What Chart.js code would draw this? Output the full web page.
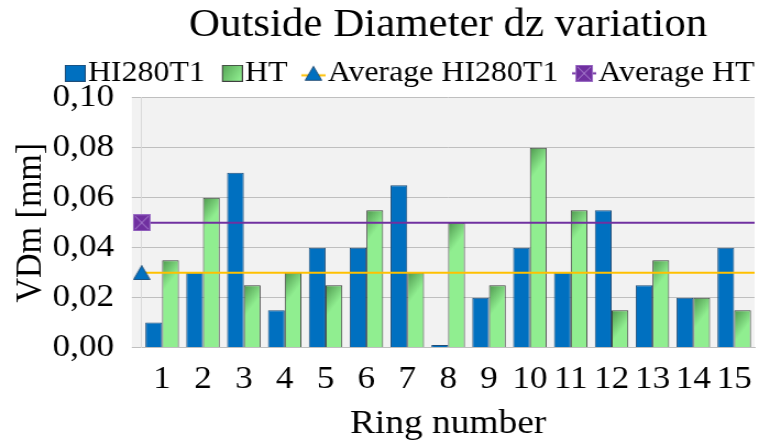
<!DOCTYPE html>
<html>
<head>
<meta charset="utf-8">
<script src="https://cdn.jsdelivr.net/npm/chart.js@4/dist/chart.umd.min.js"></script>
<style>
html,body{margin:0;padding:0;background:#fff;overflow:hidden;width:763px;height:444px;}
#wrap{width:696px;height:444px;transform:scaleX(1.1);transform-origin:0 0;}
</style>
</head>
<body>
<div id="wrap"><canvas id="c" width="696" height="444"></canvas></div>
<script>
const categories = ['1','2','3','4','5','6','7','8','9','10','11','12','13','14','15'];
const hi280t1 = [0.010,0.030,0.070,0.015,0.040,0.040,0.065,0.001,0.020,0.040,0.030,0.055,0.025,0.020,0.040];
const ht = [0.035,0.060,0.025,0.030,0.025,0.055,0.030,0.050,0.025,0.080,0.055,0.015,0.035,0.020,0.015];
const avgHI280T1 = 0.03;
const avgHT = 0.05;
const seriesNames = ['HI280T1','HT','Average HI280T1','Average HT'];
const yTicks = [0,0.02,0.04,0.06,0.08,0.10];

const FONT = '"Liberation Serif", "Times New Roman", serif';
const BLUE = '#0070c0';
const PURPLE = '#7030a0';
const YELLOW = '#ffc000';

function mk(w,h,draw){const c=document.createElement('canvas');c.width=w;c.height=h;draw(c.getContext('2d'));return c;}

const triMarker = mk(16,15,g=>{g.beginPath();g.moveTo(8,0.5);g.lineTo(15.5,14.5);g.lineTo(0.5,14.5);g.closePath();g.fillStyle=BLUE;g.fill();g.strokeStyle='#1f4e79';g.lineWidth=1;g.stroke();});
const sqMarker = mk(16,17,g=>{g.fillStyle=PURPLE;g.fillRect(0,0,16,17);g.strokeStyle='#9a6cc4';g.lineWidth=1;g.strokeRect(0.5,0.5,15,16);g.beginPath();g.moveTo(2,2);g.lineTo(14,15);g.moveTo(14,2);g.lineTo(2,15);g.strokeStyle='#b08ad6';g.stroke();});

// legend symbols: symbol sits at the right end of a wider transparent image
const LW = 37, LH = 17;
const legBlue = mk(LW,LH,g=>{g.fillStyle=BLUE;g.fillRect(LW-19,0,19,LH);g.strokeStyle='#1f4e79';g.lineWidth=1;g.strokeRect(LW-18.5,0.5,18,LH-1);});
const legGreen = mk(LW,LH,g=>{const gr=g.createLinearGradient(LW-19,0,LW,12);gr.addColorStop(0,'#55a355');gr.addColorStop(1,'#90ee90');g.fillStyle=gr;g.fillRect(LW-19,0,19,LH);g.strokeStyle='#404040';g.lineWidth=1;g.strokeRect(LW-18.5,0.5,18,LH-1);});
const legAvg1 = mk(LW,LH,g=>{g.strokeStyle=YELLOW;g.lineWidth=2;g.beginPath();g.moveTo(LW-22,10.5);g.lineTo(LW,10.5);g.stroke();g.drawImage(triMarker,LW-19,1);});
const legAvg2 = mk(LW,LH,g=>{g.strokeStyle=PURPLE;g.lineWidth=2;g.beginPath();g.moveTo(LW-22,8.5);g.lineTo(LW,8.5);g.stroke();g.drawImage(sqMarker,LW-19,0);});
const legendImgs = [legBlue,legGreen,legAvg1,legAvg2];

function greenFill(ctx){
  const chart = ctx.chart;
  if(!chart.chartArea || ctx.type!=='data') return '#8be08b';
  const xs = chart.scales.x, ys = chart.scales.y;
  const cx = xs.getPixelForValue(ctx.dataIndex);
  const w = (xs.width/categories.length)*0.41;
  const top = ys.getPixelForValue(ctx.raw);
  const g = chart.ctx.createLinearGradient(cx, top, cx+w, top+w*0.7);
  g.addColorStop(0,'#4e984e');
  g.addColorStop(1,'#90ee90');
  return g;
}

const bgPlugin = {
  id:'bg',
  beforeDraw(chart){
    const a = chart.chartArea, c = chart.ctx;
    c.save();
    c.fillStyle = '#f2f2f2';
    c.fillRect(a.left-9, a.top, a.right-a.left+9, a.bottom-a.top);
    c.restore();
  }
};

const zeroPad = (s)=>{s.paddingRight = 0; s.paddingLeft = 0;};

new Chart(document.getElementById('c'), {
  type:'bar',
  data:{
    labels: categories,
    datasets:[
      {type:'bar', indexAxis:'x', label:seriesNames[0], data:hi280t1, backgroundColor:BLUE, borderColor:'#1f4e79', borderWidth:1, order:2, categoryPercentage:0.82, barPercentage:1},
      {type:'bar', indexAxis:'x', label:seriesNames[1], data:ht, backgroundColor:greenFill, borderColor:'#404040', borderWidth:1, order:2, categoryPercentage:0.82, barPercentage:1},
      {type:'line', indexAxis:'x', label:seriesNames[2], data:[{x:0,y:avgHI280T1},{x:1,y:avgHI280T1}], xAxisID:'x2', borderColor:YELLOW, borderWidth:2, pointStyle:[triMarker,false], pointRadius:[8,0], clip:false, order:1},
      {type:'line', indexAxis:'x', label:seriesNames[3], data:[{x:0,y:avgHT},{x:1,y:avgHT}], xAxisID:'x2', borderColor:PURPLE, borderWidth:2, pointStyle:[sqMarker,false], pointRadius:[8,0], clip:false, order:0}
    ]
  },
  options:{
    indexAxis:'y',
    responsive:false,
    animation:false,
    devicePixelRatio:1,
    layout:{padding:{left:4,right:0,top:0,bottom:0}},
    plugins:{
      tooltip:{enabled:false},
      title:{display:true, fullSize:false, text:'Outside Diameter dz variation', color:'#000', font:{family:FONT,size:39,weight:'normal'}, padding:{top:2,bottom:0}},
      legend:{
        display:true, position:'top', align:'end',
        labels:{
          color:'#000', font:{family:FONT,size:29}, usePointStyle:true, pointStyleWidth:12, padding:10,
          sort:(a,b)=>a.datasetIndex-b.datasetIndex,
          generateLabels:(chart)=>seriesNames.map((n,i)=>({text:n, pointStyle:legendImgs[i], datasetIndex:i, hidden:false, lineWidth:0, fontColor:'#000'}))
        }
      }
    },
    scales:{
      x:{
        type:'category', position:'bottom', offset:true,
        grid:{display:false, drawTicks:true, tickLength:10, offset:true},
        border:{display:true,color:'#bfbfbf'},
        ticks:{color:'#000', font:{family:FONT,size:32,lineHeight:1.05}, padding:5, maxRotation:0, autoSkip:false},
        title:{display:true, text:'Ring number', color:'#000', font:{family:FONT,size:34}, padding:{top:2,bottom:0}},
        afterFit:zeroPad
      },
      x2:{type:'linear', position:'bottom', min:0, max:1, display:false, offset:false,
        grid:{display:false, drawTicks:false}, ticks:{display:false, padding:0}, afterFit:zeroPad},
      y:{
        type:'linear', position:'left', min:0, max:0.1, offset:false,
        afterBuildTicks:(s)=>{s.ticks = yTicks.map(v=>({value:v}));},
        grid:{color:'#bfbfbf', tickLength:9, drawTicks:true, offset:false},
        border:{display:true,color:'#d9d9d9'},
        ticks:{color:'#000', font:{family:FONT,size:32}, padding:16, callback:(v)=>Number(v).toFixed(2).replace('.',',')},
        title:{display:true, text:'VDm [mm]', color:'#000', font:{family:FONT,size:34}, padding:{top:4,bottom:-17}}
      }
    }
  },
  plugins:[bgPlugin]
});
</script>
</body>
</html>
